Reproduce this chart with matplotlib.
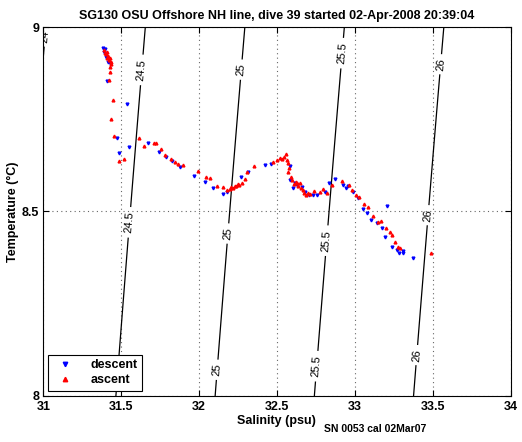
import numpy as np
import matplotlib
matplotlib.use('Agg')
import matplotlib.pyplot as plt

plt.rcParams['font.family'] = ['Liberation Sans', 'DejaVu Sans']
plt.rcParams['font.weight'] = 'bold'

title = 'SG130 OSU Offshore NH line, dive 39 started 02-Apr-2008 20:39:04'
footer = 'SN 0053 cal 02Mar07'

# descent samples (salinity psu, temperature C)
sal_down = [31.383, 31.390, 31.396, 31.402, 31.415, 31.428, 31.409, 31.537, 31.473, 31.550,
            31.672, 31.486, 31.743, 31.788, 31.826, 31.877, 31.967, 32.038, 32.089, 32.153,
            32.179, 32.269, 32.314, 32.423, 32.462, 32.584, 32.584, 32.603, 32.661, 32.680,
            32.705, 32.731, 32.757, 32.808, 32.834, 32.872, 32.924, 32.943, 32.956, 32.988,
            33.020, 33.052, 33.078, 33.104, 33.142, 33.174, 33.206, 33.193, 33.238, 33.270,
            33.283, 33.309, 33.309, 33.373, 32.615, 32.630]
temp_down = [8.944, 8.933, 8.942, 8.920, 8.906, 8.904, 8.855, 8.792, 8.700, 8.675,
             8.686, 8.659, 8.662, 8.648, 8.637, 8.621, 8.596, 8.580, 8.564, 8.548,
             8.553, 8.594, 8.607, 8.626, 8.629, 8.624, 8.586, 8.564, 8.567, 8.553,
             8.545, 8.545, 8.545, 8.553, 8.577, 8.588, 8.572, 8.564, 8.569, 8.553,
             8.537, 8.507, 8.496, 8.477, 8.469, 8.455, 8.515, 8.431, 8.404, 8.395,
             8.387, 8.393, 8.387, 8.374, 8.578, 8.572]

# ascent samples
sal_up = [31.390, 31.396, 31.402, 31.409, 31.415, 31.409, 31.422, 31.428, 31.434, 31.434,
          31.428, 31.428, 31.422, 31.447, 31.434, 31.454, 31.614, 31.646, 31.711, 31.724,
          31.486, 31.518, 31.756, 31.782, 31.820, 31.845, 31.864, 31.897, 31.993, 32.045,
          32.070, 32.115, 32.153, 32.179, 32.198, 32.217, 32.237, 32.256, 32.275, 32.294,
          32.307, 32.352, 32.474, 32.500, 32.519, 32.545, 32.558, 32.564, 32.571, 32.577,
          32.571, 32.597, 32.610, 32.629, 32.636, 32.648, 32.668, 32.674, 32.687, 32.700,
          32.777, 32.796, 32.822, 32.854, 32.918, 32.963, 32.982, 33.008, 33.027, 33.059,
          33.084, 33.116, 33.148, 33.168, 33.200, 33.225, 33.238, 33.257, 33.277, 33.290,
          33.489, 32.205, 32.228, 32.250, 32.535, 32.590, 32.620, 32.655, 32.715, 32.740]
temp_up = [8.939, 8.931, 8.928, 8.933, 8.923, 8.917, 8.912, 8.917, 8.906, 8.901,
           8.893, 8.879, 8.857, 8.803, 8.751, 8.705, 8.700, 8.678, 8.686, 8.686,
           8.637, 8.643, 8.670, 8.654, 8.643, 8.635, 8.629, 8.626, 8.610, 8.594,
           8.591, 8.569, 8.567, 8.559, 8.561, 8.564, 8.569, 8.572, 8.577, 8.588,
           8.607, 8.624, 8.635, 8.640, 8.645, 8.648, 8.656, 8.640, 8.632, 8.618,
           8.607, 8.586, 8.575, 8.577, 8.569, 8.577, 8.558, 8.550, 8.545, 8.550,
           8.553, 8.561, 8.550, 8.572, 8.583, 8.572, 8.558, 8.545, 8.539, 8.520,
           8.512, 8.488, 8.471, 8.474, 8.455, 8.444, 8.436, 8.417, 8.404, 8.401,
           8.387, 8.566, 8.570, 8.575, 8.643, 8.595, 8.580, 8.565, 8.548, 8.556]

sigma_levels = [24, 24.5, 25, 25.5, 26]
label_pos = [(31.02, 8.975),
             (31.62, 8.885), (31.57, 8.47),
             (32.28, 8.885), (32.19, 8.44), (32.12, 8.07),
             (32.92, 8.93), (32.84, 8.42), (32.75, 8.08),
             (33.55, 8.90), (33.47, 8.49), (33.40, 8.11)]


def sigma0(S, T):
    # UNESCO 1980 density at surface pressure, minus 1000
    rw = (999.842594 + 6.793952e-2*T - 9.095290e-3*T**2 + 1.001685e-4*T**3
          - 1.120083e-6*T**4 + 6.536332e-9*T**5)
    a = 0.824493 - 4.0899e-3*T + 7.6438e-5*T**2 - 8.2467e-7*T**3 + 5.3875e-9*T**4
    b = -5.72466e-3 + 1.0227e-4*T - 1.6546e-6*T**2
    return rw + a*S + b*S**1.5 + 4.8314e-4*S**2 - 1000.0


sg, tg = np.meshgrid(np.linspace(30.9, 34.1, 200), np.linspace(7.95, 9.05, 200))
sig = sigma0(sg, tg)

fig = plt.figure(figsize=(5.22, 4.42), dpi=100)
ax = fig.add_axes([0.083, 0.105, 0.895, 0.833])

cs = ax.contour(sg, tg, sig, levels=sigma_levels, colors='k', linewidths=0.9)
ax.clabel(cs, manual=label_pos, inline=True, fontsize=8, fmt='%g', inline_spacing=3)
for t in cs.labelTexts:
    t.set_fontweight('normal')

ax.plot(sal_down, temp_down, 'v', color='b', ms=2, mec='b', label='descent')
ax.plot(sal_up, temp_up, '^', color='r', ms=2, mec='r', label='ascent')

ax.set_xlim(31, 34)
ax.set_ylim(8, 9)
ax.set_xticks([31, 31.5, 32, 32.5, 33, 33.5, 34])
ax.set_xticklabels(['31', '31.5', '32', '32.5', '33', '33.5', '34'])
ax.set_yticks([8, 8.5, 9])
ax.set_yticklabels(['8', '8.5', '9'])
ax.tick_params(direction='in', top=True, right=True, labelsize=9, length=4)
ax.tick_params(axis='x', pad=4)
ax.tick_params(axis='y', pad=3)
for lab in ax.get_yticklabels():
    lab.set_va('center_baseline')
ax.grid(True, linestyle=(0, (1, 3)), color='0.4', linewidth=0.8)

ax.set_xlabel('Salinity (psu)', fontsize=9, fontweight='bold', labelpad=1)
ax.set_ylabel('Temperature (\u00b0C)', fontsize=9, fontweight='bold', labelpad=2)
ax.set_title(title, fontsize=9, fontweight='bold', pad=6)

leg = ax.legend(loc='lower left', fontsize=9, markerscale=1.6, fancybox=False,
                edgecolor='k', framealpha=1, borderaxespad=0.4,
                handlelength=2.0, handletextpad=1.0, borderpad=0.35, labelspacing=0.25)
leg.get_frame().set_linewidth(0.8)

fig.text(0.718, 0.022, footer, fontsize=7.5, fontweight='bold', ha='center')

fig.savefig('out.png', dpi=100)
